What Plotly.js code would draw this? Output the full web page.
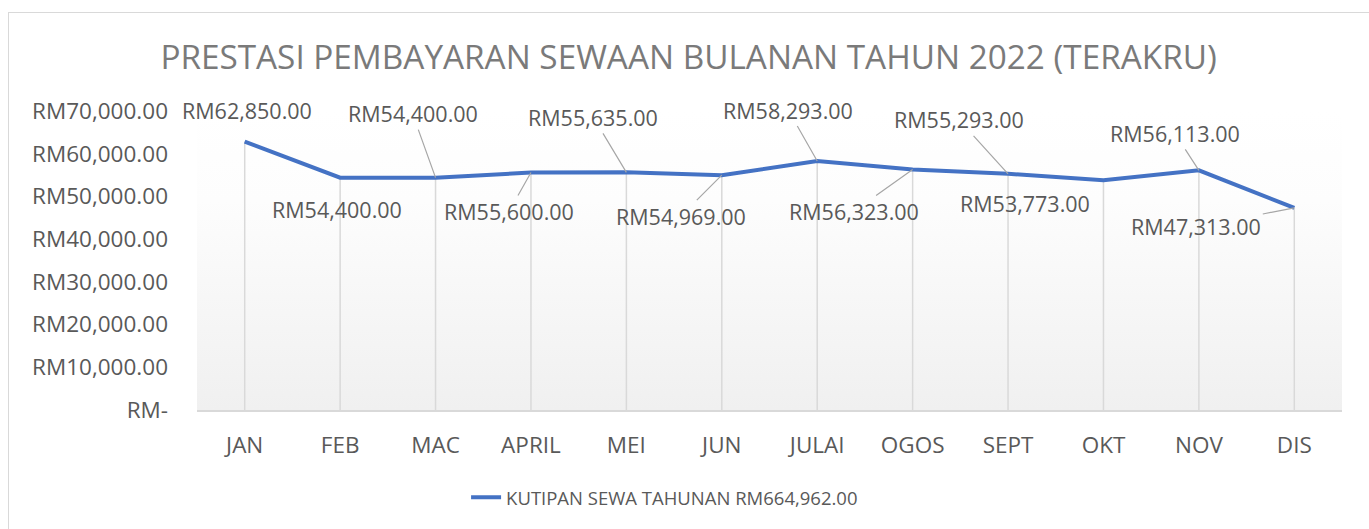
<!DOCTYPE html>
<html>
<head>
<meta charset="utf-8">
<script src="https://cdn.plot.ly/plotly-3.0.1.min.js"></script>
<style>
  html, body { margin: 0; padding: 0; background: #fff; }
  #wrap { position: relative; width: 1369px; height: 529px; overflow: hidden; }
  #chart { position: absolute; left: 0; top: 0; width: 1369px; height: 529px; }
  #frame { position: absolute; left: 8px; top: 12px; width: 1400px; height: 600px; border: 1.5px solid #d9d9d9; box-sizing: border-box; pointer-events: none; }
</style>
</head>
<body>
<div id="wrap">
  <div id="chart"></div>
  <div id="frame"></div>
</div>
<script>
// ---- data ----
const months = ['JAN','FEB','MAC','APRIL','MEI','JUN','JULAI','OGOS','SEPT','OKT','NOV','DIS'];
const collections = [62850, 54400, 54400, 55600, 55635, 54969, 58293, 56323, 55293, 53773, 56113, 47313];
const seriesName = 'KUTIPAN SEWA TAHUNAN RM664,962.00';
const chartTitle = 'PRESTASI PEMBAYARAN SEWAAN BULANAN TAHUN 2022 (TERAKRU)';
const yTickVals = [0, 10000, 20000, 30000, 40000, 50000, 60000, 70000];
const yTickText = ['RM-', 'RM10,000.00', 'RM20,000.00', 'RM30,000.00', 'RM40,000.00', 'RM50,000.00', 'RM60,000.00', 'RM70,000.00'];
// label offsets (pixels, relative to the point) and whether a leader line is shown
const labelDx = [2, -3, -23, -22, -33, -41, -29, -59, -49, -78, -24, -98];
const labelDy = [-31, 32, -64, 39, -55, 41, -51, 42, -54, 23, -37, 19];
const labelLeader = [false, false, true, true, true, true, true, true, true, false, true, true];

function fmtRM(v) {
  return 'RM' + v.toLocaleString('en-US', {minimumFractionDigits: 2, maximumFractionDigits: 2});
}

const FONT = '"Open Sans", "Noto Sans", sans-serif';
const GREY = '#595959';

const dropTrace = {
  x: months, y: collections, type: 'scatter', mode: 'markers',
  marker: {opacity: 0, size: 1},
  error_y: {type: 'data', symmetric: false, array: collections.map(() => 0), arrayminus: collections,
            color: '#d9d9d9', thickness: 1.5, width: 0},
  showlegend: false, hoverinfo: 'skip'
};

const lineTrace = {
  x: months, y: collections, type: 'scatter', mode: 'lines',
  name: seriesName,
  line: {color: '#4472C4', width: 4}
};

const annotations = months.map((m, i) => ({
  x: m, y: collections[i], xref: 'x', yref: 'y',
  text: fmtRM(collections[i]),
  showarrow: true,
  arrowhead: 0, arrowwidth: 1.2,
  arrowcolor: labelLeader[i] ? '#a6a6a6' : 'rgba(0,0,0,0)',
  ax: labelDx[i], ay: labelDy[i],
  standoff: 0, startstandoff: 0,
  font: {family: FONT, size: 21.5, color: GREY}
}));

const gradSvg = '<svg xmlns="http://www.w3.org/2000/svg" width="100" height="100" preserveAspectRatio="none">' +
  '<defs><linearGradient id="g" x1="0" y1="0" x2="0" y2="1">' +
  '<stop offset="0" stop-color="#ffffff"/><stop offset="0.3" stop-color="#fdfdfd"/><stop offset="1" stop-color="#f0f0f0"/></linearGradient></defs>' +
  '<rect width="100" height="100" fill="url(#g)"/></svg>';

const layout = {
  width: 1369, height: 529,
  margin: {l: 197, r: 27, t: 111, b: 116},
  paper_bgcolor: 'rgba(0,0,0,0)',
  plot_bgcolor: 'rgba(0,0,0,0)',
  font: {family: FONT, color: GREY},
  title: {text: chartTitle, font: {family: FONT, size: 33.3, color: '#7a7a7a'},
          x: 0.503, xanchor: 'center', y: 0.892, yanchor: 'middle'},
  xaxis: {
    type: 'category', range: [-0.5, 11.5],
    showgrid: false, zeroline: false,
    showline: true, linecolor: '#d9d9d9', linewidth: 2,
    ticks: '', ticklabelstandoff: 14,
    tickfont: {family: FONT, size: 22.5, color: GREY}
  },
  yaxis: {
    range: [0, 70000], showgrid: false, zeroline: false, showline: false,
    tickvals: yTickVals, ticktext: yTickText, ticks: '', ticklabelstandoff: 28,
    tickfont: {family: FONT, size: 22.5, color: GREY}
  },
  showlegend: true,
  legend: {orientation: 'h', x: 0.235, xanchor: 'left', y: -0.23, yanchor: 'top',
           font: {family: FONT, size: 18.5, color: GREY}, bgcolor: 'rgba(0,0,0,0)'},
  images: [{source: 'data:image/svg+xml;charset=utf-8,' + encodeURIComponent(gradSvg),
            xref: 'paper', yref: 'paper', x: 0, y: 1, sizex: 1, sizey: 1,
            sizing: 'stretch', xanchor: 'left', yanchor: 'top', layer: 'below'}],
  annotations: annotations
};

Plotly.newPlot('chart', [dropTrace, lineTrace], layout, {displayModeBar: false, staticPlot: true});
</script>
</body>
</html>
